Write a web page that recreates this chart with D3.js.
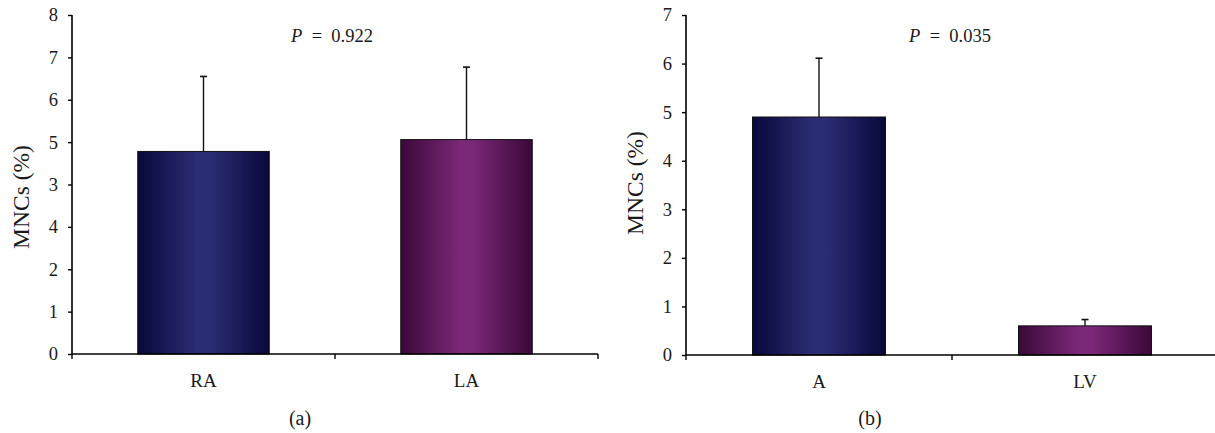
<!DOCTYPE html>
<html>
<head>
<meta charset="utf-8">
<script src="https://cdn.jsdelivr.net/npm/d3@7"></script>
<style>
  body { margin: 0; background: #fff; }
  text { font-family: "Liberation Serif", "Times New Roman", serif; fill: #1a1a1a; }
</style>
</head>
<body>
<svg id="chart" width="1215" height="433"></svg>
<script>
// panel (a)
var catsA = ["RA", "LA"]
var meansA = [4.78, 5.06]
var errA = [1.77, 1.71]
var tickLabelsA = ["0", "1", "2", "4", "3", "5", "6", "7", "8"]  // printed this way in the original figure
var pA = "0.922"

// panel (b)
var catsB = ["A", "LV"]
var meansB = [4.90, 0.60]
var errB = [1.21, 0.13]
var tickLabelsB = ["0", "1", "2", "3", "4", "5", "6", "7"]
var pB = "0.035"

var svg = d3.select("#chart")
var defs = svg.append("defs")

function addGrad(id, edge, mid) {
  var g = defs.append("linearGradient").attr("id", id)
    .attr("x1", "0%").attr("x2", "100%").attr("y1", "0%").attr("y2", "0%")
  g.append("stop").attr("offset", "0%").attr("stop-color", edge)
  g.append("stop").attr("offset", "45%").attr("stop-color", mid)
  g.append("stop").attr("offset", "55%").attr("stop-color", mid)
  g.append("stop").attr("offset", "100%").attr("stop-color", edge)
}
addGrad("gBlue", "#08083a", "#2b2d74")
addGrad("gPurple", "#3a0838", "#7b2878")
var fills = ["url(#gBlue)", "url(#gPurple)"]

function panel(o) {
  var g = svg.append("g")
  var y = d3.scaleLinear().domain([0, o.tickLabels.length - 1]).range([o.bottom, o.top])
  var x = d3.scaleBand().domain(o.cats).range([o.left, o.right])
    .paddingInner(0.5).paddingOuter(0.25)
  var step = x.step()

  // y axis
  var yAxis = d3.axisLeft(y).tickValues(d3.range(o.tickLabels.length))
    .tickFormat(function(d) { return o.tickLabels[d] })
    .tickSize(4).tickPadding(10)
  var ya = g.append("g").attr("transform", "translate(" + o.left + ",0)").call(yAxis)
  ya.select(".domain").attr("stroke", "#000").attr("stroke-width", 1.6)
    .attr("d", "M0," + o.bottom + "V" + o.top)
  ya.selectAll(".tick line").attr("stroke", "#000").attr("stroke-width", 1.4)
  ya.selectAll(".tick text").style("font-family", "Liberation Serif").style("font-size", "18.5px").attr("fill", "#1a1a1a")

  // bars
  g.selectAll("rect.bar").data(o.means).enter().append("rect")
    .attr("class", "bar")
    .attr("x", function(d, i) { return x(o.cats[i]) })
    .attr("width", x.bandwidth())
    .attr("y", function(d) { return y(d) })
    .attr("height", function(d) { return o.bottom - y(d) })
    .attr("fill", function(d, i) { return fills[i] })
    .attr("stroke", "#111").attr("stroke-width", 1)

  // error bars
  o.means.forEach(function(m, i) {
    var cx = x(o.cats[i]) + x.bandwidth() / 2
    g.append("line").attr("x1", cx).attr("x2", cx)
      .attr("y1", y(m)).attr("y2", y(m + o.err[i]))
      .attr("stroke", "#111").attr("stroke-width", 1.4)
    g.append("line").attr("x1", cx - 3.5).attr("x2", cx + 3.5)
      .attr("y1", y(m + o.err[i])).attr("y2", y(m + o.err[i]))
      .attr("stroke", "#111").attr("stroke-width", 1.6)
  })

  // x axis line with ticks at category boundaries
  g.append("line").attr("x1", o.left).attr("x2", o.right)
    .attr("y1", o.bottom).attr("y2", o.bottom)
    .attr("stroke", "#000").attr("stroke-width", 1.6)
  d3.range(o.cats.length + 1).forEach(function(k) {
    var tx = o.left + k * step
    g.append("line").attr("x1", tx).attr("x2", tx)
      .attr("y1", o.bottom).attr("y2", o.bottom + 5)
      .attr("stroke", "#000").attr("stroke-width", 1.4)
  })

  // category labels
  g.selectAll("text.cat").data(o.cats).enter().append("text")
    .attr("class", "cat")
    .attr("x", function(d) { return x(d) + x.bandwidth() / 2 })
    .attr("y", o.bottom + 33)
    .attr("text-anchor", "middle")
    .style("font-size", "19px")
    .text(function(d) { return d })

  // y title
  g.append("text")
    .attr("transform", "translate(" + o.ytx + "," + o.yty + ") rotate(-90)")
    .attr("text-anchor", "middle").attr("dy", "0.35em")
    .style("font-size", "23.5px")
    .text("MNCs (%)")

  // P value
  var pt = g.append("text").attr("x", o.px).attr("y", 42)
    .attr("text-anchor", "middle").style("font-size", "18.5px")
  pt.append("tspan").style("font-style", "italic").text("P")
  pt.append("tspan").attr("xml:space", "preserve").text("  =  " + o.p)

  // panel letter
  g.append("text").attr("x", o.letterX).attr("y", 425)
    .attr("text-anchor", "middle").style("font-size", "20px")
    .text(o.letter)
}

panel({ cats: catsA, means: meansA, err: errA, tickLabels: tickLabelsA, p: pA, px: 332,
  left: 72, right: 598, top: 15, bottom: 354, ytx: 21, yty: 197, letter: "(a)", letterX: 300 })
panel({ cats: catsB, means: meansB, err: errB, tickLabels: tickLabelsB, p: pB, px: 950,
  left: 686, right: 1218, top: 15, bottom: 355, ytx: 635, yty: 183, letter: "(b)", letterX: 870 })
</script>
</body>
</html>
